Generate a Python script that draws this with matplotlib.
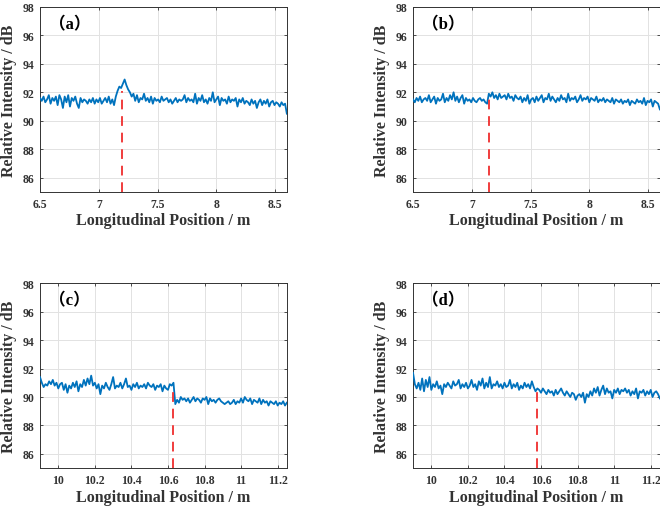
import numpy as np
import matplotlib
matplotlib.use("Agg")
import matplotlib.pyplot as plt

# ---------------- data ----------------
panel_labels = ["（a）", "（b）", "（c）", "（d）"]

x_range_top = (6.5, 8.6)
x_range_bottom = (9.9, 11.25)
xticks_top = [6.5, 7, 7.5, 8, 8.5]
xticks_bottom = [10, 10.2, 10.4, 10.6, 10.8, 11, 11.2]
yticks = [86, 88, 90, 92, 94, 96, 98]

intensity_a = [
    91.6, 91.4, 91.7, 91.3, 91.5, 91.8, 91.2, 91.6, 91.4, 91.7,
    91.1, 91.8, 91.5, 90.9, 91.7, 91.3, 91.8, 91.0, 91.6, 91.4,
    91.7, 91.2, 90.9, 91.6, 91.3, 91.5, 91.4, 91.2, 91.5, 91.3,
    91.6, 91.2, 91.5, 91.3, 91.6, 91.2, 91.4, 91.6, 91.3, 91.7,
    91.2, 91.5, 91.1, 91.7, 92.1, 92.4, 92.3, 92.6, 92.9, 92.5,
    92.2, 92.0, 91.7, 91.9, 91.4, 91.8, 91.3, 91.6, 91.5, 91.9,
    91.4, 91.6, 91.3, 91.7, 91.2, 91.6, 91.4, 91.5, 91.3, 91.7,
    91.4, 91.5, 91.6, 91.3, 91.5, 91.2, 91.4, 91.6, 91.3, 91.5,
    91.4, 91.5, 91.8, 91.3, 91.6, 91.4, 91.5, 91.3, 91.9, 91.2,
    91.6, 91.4, 91.8, 91.3, 91.5, 91.2, 91.6, 91.4, 92.0, 91.3,
    91.5, 91.7, 91.1, 91.6, 91.4, 91.5, 91.2, 91.7, 91.3, 91.5,
    91.4, 91.6, 91.0, 91.5, 91.3, 91.6, 91.2, 91.4, 91.3, 91.1,
    91.5, 91.2, 91.4, 90.9, 91.3, 91.5, 91.1, 91.4, 91.2, 91.5,
    91.0, 91.3, 91.4, 91.1, 91.3, 91.2, 91.0, 91.3, 91.1, 91.2,
    90.5,
]

intensity_b = [
    91.5, 91.3, 91.6, 91.4, 91.7, 91.3, 91.5, 91.6, 91.4, 91.8,
    91.3, 91.5, 91.7, 91.2, 91.6, 91.4, 91.5, 91.9, 91.3, 91.6,
    91.4, 91.8, 91.5, 92.0, 91.4, 91.7, 91.3, 91.6, 91.8, 91.2,
    91.6, 91.4, 91.5, 91.3, 91.6, 91.4, 91.3, 91.5, 91.6, 91.4,
    91.5, 91.3, 91.2, 91.9, 91.7, 92.0, 91.6, 91.8, 91.5, 91.9,
    91.6, 91.7, 91.8, 91.5, 91.9, 91.6, 91.7, 91.4, 91.8, 91.6,
    91.5, 91.7, 91.3, 91.6, 91.4, 91.8, 91.2, 91.5, 91.6, 91.3,
    91.7, 91.4, 91.6, 91.8, 91.3, 91.6, 91.5, 91.9, 91.4, 91.7,
    91.5, 91.3, 91.6, 91.4, 91.8, 91.5, 91.6, 91.3, 91.9, 91.4,
    91.6, 91.5, 91.7, 91.3, 91.5, 91.8, 91.4, 91.6, 91.5, 91.7,
    91.3, 91.6, 91.5, 91.4, 91.7, 91.3, 91.5, 91.4, 91.6, 91.3,
    91.5, 91.4, 91.3, 91.6, 91.2, 91.5, 91.4, 91.3, 91.5, 91.2,
    91.4, 91.3, 91.5, 91.1, 91.4, 91.3, 91.2, 91.5, 91.3, 91.4,
    91.2, 91.6, 91.1, 91.4, 91.3, 91.5, 91.0, 91.4, 91.3, 91.2,
    90.8,
]

intensity_c = [
    91.4, 91.0, 90.7, 90.9, 90.8, 91.1, 90.9, 91.2, 90.8, 91.0,
    90.6, 90.9, 91.0, 90.5, 90.9, 90.3, 90.8, 90.6, 91.0, 90.7,
    91.1, 90.4, 90.9, 90.7, 91.2, 90.8, 91.3, 90.9, 91.5, 90.8,
    91.0, 90.6, 90.9, 90.2, 90.8, 90.6, 91.0, 90.7, 90.5, 90.9,
    91.4, 90.6, 90.8, 90.7, 91.0, 90.6, 90.9, 91.3, 90.7, 90.8,
    90.5, 90.9, 90.7, 91.0, 90.6, 90.8, 90.7, 90.9, 90.6, 91.0,
    90.8, 90.7, 90.9, 90.5, 90.8, 90.7, 90.9, 90.4, 90.8, 90.6,
    90.5, 90.9, 90.8, 91.0, 89.5, 89.8, 89.6, 90.0, 89.8, 89.9,
    89.7, 89.9, 89.6, 89.8, 90.0, 89.7, 89.9, 89.8, 89.6, 89.9,
    89.8, 90.0, 89.5, 89.9, 89.7, 89.8, 89.6, 89.8, 89.9, 89.7,
    89.6, 89.5, 89.6, 89.7, 89.5, 89.6, 89.8, 89.5, 89.7, 89.6,
    89.9, 89.6, 90.0, 89.8, 89.7, 89.9, 89.5, 89.8, 89.7, 89.6,
    89.9, 89.5, 89.8, 89.6, 89.7, 89.4, 89.7, 89.6, 89.5, 89.7,
    89.4, 89.6, 89.5, 89.7, 89.4, 89.6,
]

intensity_d = [
    91.7, 90.9, 90.6, 91.0, 90.5, 91.3, 90.4, 91.2, 90.7, 91.4,
    90.5, 90.9, 90.7, 91.1, 90.6, 90.8, 90.2, 90.9, 90.7, 91.0,
    90.8, 90.6, 91.1, 90.8, 90.9, 91.2, 90.6, 90.9, 90.7, 91.0,
    90.6, 90.8, 91.2, 90.7, 90.9, 90.5, 91.1, 90.8, 91.3, 90.6,
    91.0, 90.7, 91.4, 90.6, 90.9, 90.8, 91.1, 90.7, 90.9, 90.6,
    91.0, 90.7, 90.8, 91.2, 90.6, 90.9, 90.7, 91.0, 90.5, 90.8,
    90.6, 91.0, 90.7, 90.9, 90.6, 91.1, 90.7, 90.4, 90.6, 90.5,
    90.3, 90.6, 90.4, 90.2, 90.5, 90.3, 90.4, 90.1, 90.5, 90.2,
    90.4, 90.6, 90.3, 90.1, 90.4, 90.2, 90.0, 90.3, 90.2, 89.8,
    90.1, 90.2, 90.0, 90.3, 89.6, 90.2, 90.0, 90.4, 90.1, 90.6,
    90.3, 90.7, 90.1, 90.5, 90.8, 90.2, 90.6, 90.3, 90.4, 89.9,
    90.5, 90.3, 90.6, 90.2, 90.5, 90.4, 90.6, 90.3, 90.5, 90.1,
    90.4, 90.2, 90.6, 89.9, 90.4, 90.3, 90.5, 90.1, 90.4, 90.2,
    90.5, 90.0, 90.3, 90.4, 90.2, 89.9,
]

# location of the marked events (dashed red line): x position and top value
event_x = [7.2, 7.15, 10.63, 10.58]
event_top = [92.1, 91.5, 90.8, 90.4]

# ---------------- styling ----------------
blue = "#0072BD"
red = "#F03C3C"
serif = ["Liberation Serif", "Noto Sans CJK SC", "DejaVu Serif"]
txt = "#333333"

plt.rcParams["font.family"] = serif
plt.rcParams["font.weight"] = "bold"

fig = plt.figure(figsize=(6.6, 5.1), dpi=100)

w, h = 0.374, 0.363
positions = [
    (0.0606, 0.6216),
    (0.6258, 0.6216),
    (0.0606, 0.0800),
    (0.6258, 0.0800),
]
series = [intensity_a, intensity_b, intensity_c, intensity_d]
xranges = [x_range_top, x_range_top, x_range_bottom, x_range_bottom]
xtick_sets = [xticks_top, xticks_top, xticks_bottom, xticks_bottom]

for k in range(4):
    ax = fig.add_axes([positions[k][0], positions[k][1], w, h])
    y = np.array(series[k])
    x = np.linspace(xranges[k][0], xranges[k][1], len(y))
    ax.plot(x, y, color=blue, lw=1.3, zorder=3)
    ax.plot([event_x[k], event_x[k]], [85, event_top[k]], color=red,
            lw=1.4, ls=(0, (5, 3.5)), zorder=4)
    ax.set_xlim(*xranges[k])
    ax.set_ylim(85, 98)
    ax.set_xticks(xtick_sets[k])
    ax.set_xticklabels([f"{t:g}" for t in xtick_sets[k]])
    ax.set_yticks(yticks)
    ax.grid(True, color="#e2e2e2", lw=0.7)
    ax.set_axisbelow(True)
    ax.tick_params(direction="in", length=2.5, width=0.6, top=True, right=True,
                   labelsize=8.5, colors=txt, pad=4)
    for lab in ax.get_xticklabels() + ax.get_yticklabels():
        lab.set_fontweight("bold")
    for sp in ax.spines.values():
        sp.set_color("#333333")
        sp.set_linewidth(0.7)
    ax.set_xlabel("Longitudinal Position / m", fontsize=11.5, fontweight="bold",
                  color=txt, labelpad=2)
    ax.set_ylabel("Relative Intensity / dB", fontsize=11.5, fontweight="bold",
                  color=txt, labelpad=4)
    ax.text(0.035, 0.905, panel_labels[k], transform=ax.transAxes,
            fontsize=12, fontweight="bold", ha="left", va="center",
            color="black", family=serif)

fig.savefig("out.png", dpi=100)
